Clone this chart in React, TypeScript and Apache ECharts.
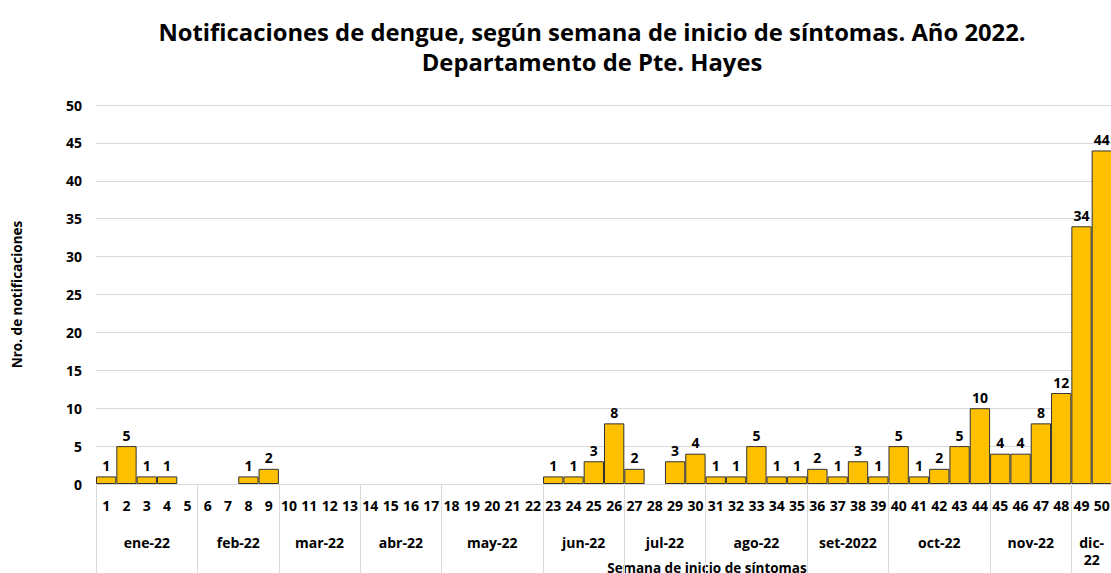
import React, { useEffect, useRef } from "react";
import * as echarts from "echarts";

const weeks: string[] = Array.from({ length: 50 }, (_, i) => String(i + 1));
const cases: number[] = [
  1, 5, 1, 1, 0, 0, 0, 1, 2, 0,
  0, 0, 0, 0, 0, 0, 0, 0, 0, 0,
  0, 0, 1, 1, 3, 8, 2, 0, 3, 4,
  1, 1, 5, 1, 1, 2, 1, 3, 1, 5,
  1, 2, 5, 10, 4, 4, 8, 12, 34, 44,
];
const monthNames: string[] = [
  "ene-22", "feb-22", "mar-22", "abr-22", "may-22", "jun-22",
  "jul-22", "ago-22", "set-2022", "oct-22", "nov-22", "dic-\n22",
];
const monthStart: number[] = [1, 6, 10, 14, 18, 23, 27, 31, 36, 40, 45, 49];
const monthEnd: number[] = [5, 9, 13, 17, 22, 26, 30, 35, 39, 44, 48, 50];
const yTicks = { min: 0, max: 50, interval: 5 };

const FONT = "'Open Sans', 'Noto Sans', sans-serif";

export default function App() {
  const ref = useRef<HTMLDivElement>(null);
  useEffect(() => {
    if (!ref.current) return;
    const chart = echarts.init(ref.current, undefined, { renderer: "svg" });
    const half: string[] = Array.from({ length: 101 }, () => "");
    const boundaries = new Set<number>();
    monthNames.forEach((m, i) => {
      half[monthStart[i] - 1 + monthEnd[i]] = m;
      boundaries.add(2 * (monthStart[i] - 1));
      boundaries.add(2 * monthEnd[i]);
    });
    chart.setOption({
      animation: false,
      textStyle: { fontFamily: FONT },
      title: {
        text: "Notificaciones de dengue, según semana de inicio de síntomas. Año 2022.\nDepartamento de Pte. Hayes",
        left: 587,
        top: 12,
        textAlign: "center",
        textStyle: { fontFamily: FONT, fontWeight: "bold", fontSize: 23.8, lineHeight: 30, color: "#000" },
      },
      grid: { left: 96, width: 1016, top: 105, bottom: 89, outerBoundsMode: "none", containLabel: false },
      xAxis: [
        {
          type: "category",
          data: weeks,
          position: "bottom",
          axisLine: { show: true, lineStyle: { color: "#d9d9d9", width: 1 } },
          axisTick: { show: false },
          axisLabel: { interval: 0, margin: 14, fontWeight: "bold", fontSize: 14, color: "#000", fontFamily: FONT },
          name: "Semana de inicio de síntomas",
          nameLocation: "middle",
          nameGap: 77,
          nameTextStyle: { fontWeight: "bold", fontSize: 13.5, color: "#000", fontFamily: FONT, padding: [0, 0, 0, 206] },
        },
        {
          type: "category",
          data: half,
          boundaryGap: false,
          position: "bottom",
          axisLine: { show: false },
          axisTick: {
            show: true,
            interval: (idx: number) => boundaries.has(idx),
            length: 95,
            inside: false,
            lineStyle: { color: "#d9d9d9", width: 1 },
          },
          axisLabel: {
            interval: (_idx: number, v: string) => v !== "",
            margin: 50,
            fontWeight: "bold",
            fontSize: 14,
            lineHeight: 17,
            color: "#000",
            fontFamily: FONT,
          },
        },
      ],
      yAxis: {
        type: "value",
        min: yTicks.min,
        max: yTicks.max,
        interval: yTicks.interval,
        splitLine: { lineStyle: { color: "#d9d9d9", width: 1 } },
        axisLine: { show: false },
        axisTick: { show: false },
        axisLabel: { margin: 14, fontWeight: "bold", fontSize: 14, color: "#000", fontFamily: FONT },
        name: "Nro. de notificaciones",
        nameLocation: "middle",
        nameGap: 72,
        nameTextStyle: { fontWeight: "bold", fontSize: 13.5, color: "#000", fontFamily: FONT },
      },
      series: [
        {
          type: "bar",
          xAxisIndex: 0,
          data: cases.map((v) => (v === 0 ? "-" : v)),
          barCategoryGap: "0%",
          itemStyle: { color: "#FFC000", borderColor: "#333333", borderWidth: 1 },
          label: {
            show: true,
            position: "top",
            distance: 4,
            fontWeight: "bold",
            fontSize: 14,
            color: "#000",
            fontFamily: FONT,
          },
        },
      ],
    });
    return () => chart.dispose();
  }, []);
  return (
    <div
      ref={ref}
      style={{ position: "fixed", left: 0, top: 0, width: 1111, height: 573, background: "#fff" }}
    />
  );
}
